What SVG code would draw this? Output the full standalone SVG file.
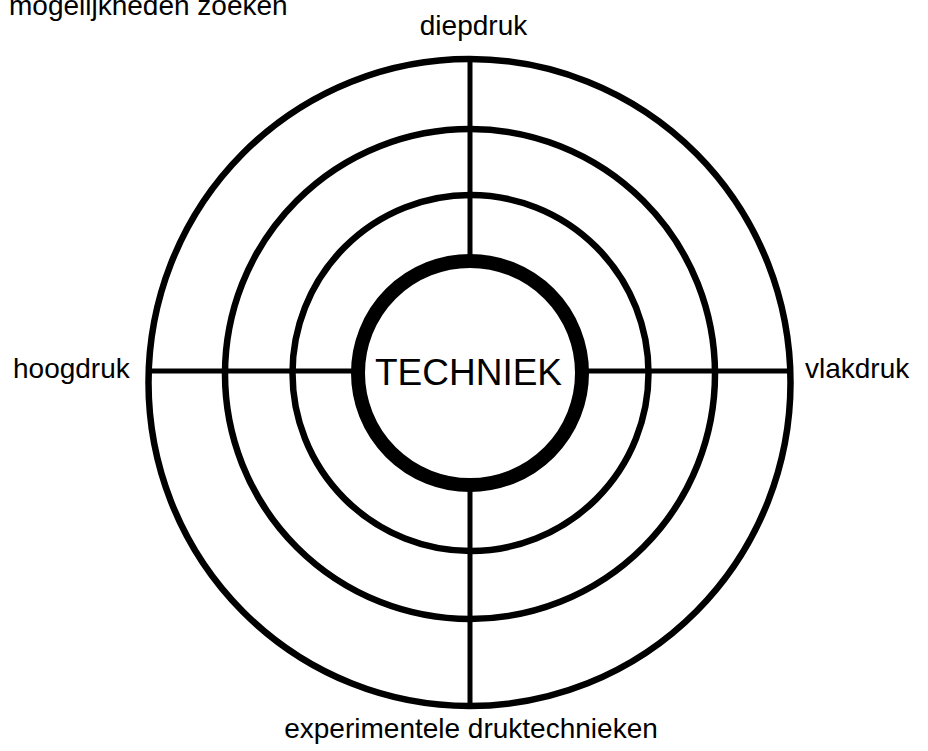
<svg xmlns="http://www.w3.org/2000/svg" width="928" height="751" viewBox="0 0 928 751">
<style>
.ring{fill:none;stroke:#000;stroke-width:6.5}
.core{fill:none;stroke:#000;stroke-width:14}
.ln{stroke:#000;stroke-width:5;fill:none}
.t{font-family:"Liberation Sans",Arial,sans-serif;font-size:28px;fill:#000}
</style>
<rect width="928" height="751" fill="#fff"/>
<g id="connectors">
<line class="ln" x1="470" y1="59" x2="470" y2="256"/>
<line class="ln" x1="470" y1="490" x2="470" y2="706"/>
<line class="ln" x1="148" y1="371" x2="352" y2="371"/>
<line class="ln" x1="588" y1="371" x2="790" y2="371"/>
</g>
<g id="ring-outer"><ellipse class="ring" cx="469.5" cy="382.5" rx="321" ry="323.5"/></g>
<g id="ring-2"><circle class="ring" cx="470" cy="374" r="245"/></g>
<g id="ring-3"><circle class="ring" cx="470.5" cy="373" r="178"/></g>
<g id="techniek">
<circle class="core" cx="470" cy="373" r="112"/>
<text class="t" x="468.5" y="385" text-anchor="middle" style="font-size:37px">TECHNIEK</text>
</g>
<g id="labels">
<text class="t" x="9" y="15">mogelijkheden zoeken</text>
<text class="t" x="473.5" y="35" text-anchor="middle">diepdruk</text>
<text class="t" x="13" y="378">hoogdruk</text>
<text class="t" x="805" y="378">vlakdruk</text>
<text class="t" x="471" y="738" text-anchor="middle">experimentele druktechnieken</text>
</g>
</svg>
